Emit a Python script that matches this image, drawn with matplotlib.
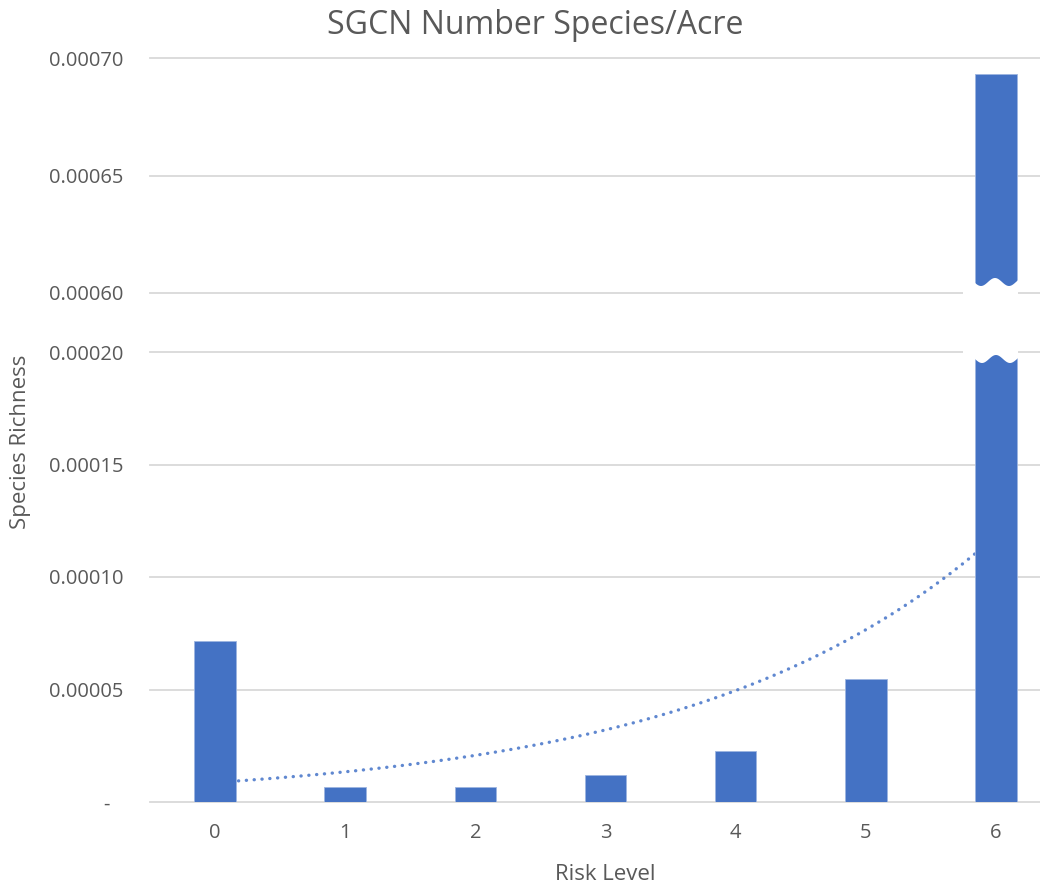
import numpy as np
import matplotlib
matplotlib.use("Agg")
import matplotlib.pyplot as plt
from matplotlib.patches import Polygon

# ---- data ----
risk_levels = [0, 1, 2, 3, 4, 5, 6]
richness = [7.16e-5, 6.8e-6, 6.8e-6, 1.21e-5, 2.28e-5, 5.48e-5, 6.93e-4]
bottom_ticks = [0, 0.00005, 0.00010, 0.00015, 0.00020]
bottom_labels = ["-", "0.00005", "0.00010", "0.00015", "0.00020"]
top_ticks = [0.00060, 0.00065, 0.00070]
top_labels = ["0.00060", "0.00065", "0.00070"]
title = "SGCN Number Species/Acre"
xlabel = "Risk Level"
ylabel = "Species Richness"

# ---- style ----
BAR = "#4472C4"
GRID = "#D9D9D9"
TXT = "#595959"
FONT = ["Open Sans", "DejaVu Sans"]
plt.rcParams["font.family"] = FONT

W, H = 1040, 890
fig = plt.figure(figsize=(W / 100, H / 100), dpi=100)

def fx(px):
    return px / W

def fy(py):
    return 1 - py / H

left_px, right_px = 150, 1061
ax_top = fig.add_axes([fx(left_px), fy(293), fx(right_px - left_px), (293 - 58) / H])
ax_bot = fig.add_axes([fx(left_px), fy(802), fx(right_px - left_px), (802 - 352) / H])

x = np.array(risk_levels)
y = np.array(richness)

for ax in (ax_top, ax_bot):
    ax.bar(x, y, width=0.32, color=BAR, zorder=3, edgecolor="#9DB5E0", linewidth=0.6)
    ax.set_xlim(-0.5, 6.5)
    for s in ax.spines.values():
        s.set_visible(False)
    ax.tick_params(axis="both", length=0, labelsize=14.5, labelcolor=TXT)
    ax.yaxis.grid(True, color=GRID, linewidth=1.3, zorder=0)
    ax.set_axisbelow(True)

ax_top.set_ylim(0.00060, 0.00070)
ax_top.set_yticks(top_ticks)
ax_top.set_yticklabels(top_labels)
ax_top.set_xticks([])
ax_top.tick_params(axis="y", pad=19)
for gl in ax_top.get_ygridlines():
    gl.set_clip_on(False)

ax_bot.set_ylim(0, 0.00020)
ax_bot.set_yticks(bottom_ticks)
ax_bot.set_yticklabels(bottom_labels)
ax_bot.tick_params(axis="y", pad=19)
ax_bot.set_xticks(x)
ax_bot.set_xticklabels([str(v) for v in risk_levels])
ax_bot.tick_params(axis="x", pad=15)
for gl in ax_bot.get_ygridlines():
    gl.set_clip_on(False)
ax_bot.get_yticklabels()[0].set_x(-0.015)

# exponential trendline fitted from data (as Excel does)
coef = np.polyfit(x, np.log(y), 1)
xt = np.linspace(0, 6, 300)
yt = np.exp(np.polyval(coef, xt))
ax_bot.plot(xt, yt, linestyle=(0, (0.05, 2.3)), color="#4F7BCB", linewidth=2.4,
            zorder=2, dash_capstyle="round", alpha=0.9)

# broken-bar white wave
xs = np.linspace(963, 1018, 80)
top_edge = 282 - 4 * np.cos(2 * np.pi * (xs - 995) / 28)
bot_edge = 359 - 4 * np.cos(2 * np.pi * (xs - 996) / 28)
pts = [(fx(a), fy(b)) for a, b in zip(xs, top_edge)] + \
      [(fx(a), fy(b)) for a, b in zip(xs[::-1], bot_edge[::-1])]
fig.add_artist(Polygon(pts, closed=True, transform=fig.transFigure,
                       facecolor="white", edgecolor="none", zorder=10))

fig.text(fx(535), fy(26), title, ha="center", va="center", fontsize=23, color=TXT)
fig.text(fx(605), fy(874), xlabel, ha="center", va="center", fontsize=16, color=TXT)
fig.text(fx(21), fy(442), ylabel, ha="center", va="center", fontsize=16, color=TXT,
         rotation=90)

fig.savefig("out.png", dpi=100)
